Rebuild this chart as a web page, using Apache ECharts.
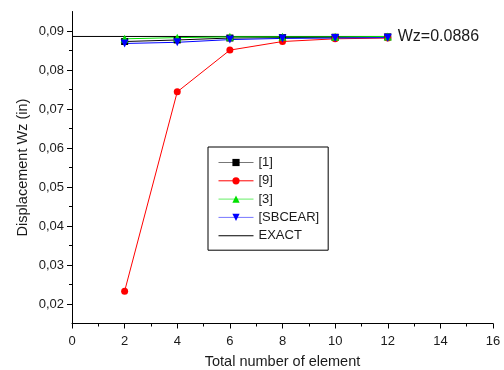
<!DOCTYPE html>
<html>
<head>
<meta charset="utf-8">
<script src="https://cdn.jsdelivr.net/npm/echarts@6/dist/echarts.min.js"></script>
<style>
  html, body { margin: 0; padding: 0; background: #fff; }
  #chart { width: 504px; height: 370px; }
</style>
</head>
<body>
<div id="chart"></div>
<script>
// data
const elements = [2, 4, 6, 8, 10, 12];
const ref1 = [0.0873, 0.0877, 0.0882, 0.0883, 0.0884, 0.0885];
const ref9 = [0.0233, 0.0744, 0.0851, 0.0873, 0.0880, 0.0882];
const ref3 = [0.0880, 0.0883, 0.0885, 0.0885, 0.0885, 0.0886];
const sbcear = [0.0868, 0.0871, 0.0878, 0.0881, 0.0882, 0.0883];
const exactValue = 0.0886;
const exactRange = [0, 12];
const yMajorTicks = [0.02, 0.03, 0.04, 0.05, 0.06, 0.07, 0.08, 0.09];
const yMinorTicks = [0.025, 0.035, 0.045, 0.055, 0.065, 0.075, 0.085];

const FONT = "'Liberation Sans', Arial, sans-serif";
const TXT = '#1a1a1a';

function pairs(ys) {
    return elements.map((x, i) => [x, ys[i]]);
}

const chart = echarts.init(document.getElementById('chart'));

function dataSeries(name, ys, color, symbol, size) {
    return {
        name: name,
        type: 'line',
        data: pairs(ys),
        symbol: symbol,
        symbolSize: size,
        color: color,
        itemStyle: { color: color },
        lineStyle: { color: color, width: 1 },
        emphasis: { disabled: true },
        animation: false
    };
}

// legend entries: lines drawn a bit lighter than the markers, like the original
function legendItem(name, lineColor) {
    return { name: name, lineStyle: { color: lineColor, width: 1 } };
}

const option = {
    animation: false,
    textStyle: { fontFamily: FONT },
    grid: { left: 72, right: 11, top: 11.5, bottom: 46.5, outerBoundsMode: 'none', containLabel: false },
    legend: {
        orient: 'vertical',
        left: 208,
        top: 147,
        padding: [9, 9, 8, 10],
        itemWidth: 35,
        itemHeight: 9,
        itemGap: 5.3,
        borderColor: '#000',
        borderWidth: 1,
        borderRadius: 0,
        textStyle: { fontFamily: FONT, fontSize: 13, color: TXT },
        data: [
            legendItem('[1]', '#777777'),
            legendItem('[9]', '#ff0000'),
            legendItem('[3]', '#66ee66'),
            legendItem('[SBCEAR]', '#7777ff'),
            { name: 'EXACT', icon: 'path://M0,0 L35,0 L35,1 L0,1 Z', itemStyle: { color: '#000' } }
        ]
    },
    xAxis: {
        type: 'value',
        min: 0,
        max: 16,
        interval: 2,
        name: 'Total number of element',
        nameLocation: 'middle',
        nameGap: 31,
        nameMoveOverlap: false,
        nameTextStyle: { fontFamily: FONT, fontSize: 14.5, color: TXT },
        axisLine: { lineStyle: { color: '#000', width: 1 } },
        axisTick: { show: true, length: 5, lineStyle: { color: '#000' } },
        minorTick: { show: true, splitNumber: 2, length: 3, lineStyle: { color: '#000' } },
        splitLine: { show: false },
        axisLabel: { fontFamily: FONT, fontSize: 13, color: TXT, margin: 11 }
    },
    yAxis: [
        {
            type: 'value',
            min: 0.015,
            max: 0.095,
            name: 'Displacement Wz (in)',
            nameLocation: 'middle',
            nameGap: 42,
            nameMoveOverlap: false,
            nameTextStyle: { fontFamily: FONT, fontSize: 14.5, color: TXT },
            axisLine: { show: true, lineStyle: { color: '#000', width: 1 } },
            axisTick: { show: true, length: 5, customValues: yMajorTicks, lineStyle: { color: '#000' } },
            splitLine: { show: false },
            axisLabel: {
                fontFamily: FONT, fontSize: 13, color: TXT, margin: 8,
                customValues: yMajorTicks,
                formatter: v => v.toFixed(2).replace('.', ',')
            }
        },
        {
            type: 'value',
            min: 0.015,
            max: 0.095,
            position: 'left',
            axisLine: { show: false },
            axisTick: { show: true, length: 3, customValues: yMinorTicks, lineStyle: { color: '#000' } },
            splitLine: { show: false },
            axisLabel: { show: false }
        }
    ],
    series: [
        {
            name: 'EXACT',
            type: 'line',
            data: exactRange.map(x => [x, exactValue]),
            symbol: 'none',
            color: '#000',
            lineStyle: { color: '#000', width: 1 },
            endLabel: {
                show: true,
                formatter: 'Wz=' + exactValue,
                fontFamily: FONT,
                fontSize: 16,
                color: TXT,
                distance: 10
            },
            emphasis: { disabled: true },
            z: 1
        },
        dataSeries('[1]', ref1, '#000', 'rect', 7),
        dataSeries('[9]', ref9, '#ff0000', 'circle', 7),
        dataSeries('[3]', ref3, '#00e000', 'triangle', 8),
        dataSeries('[SBCEAR]', sbcear, '#0000ff', 'path://M0,0 L10,0 L5,10 Z', 8)
    ]
};

chart.setOption(option);
</script>
</body>
</html>
